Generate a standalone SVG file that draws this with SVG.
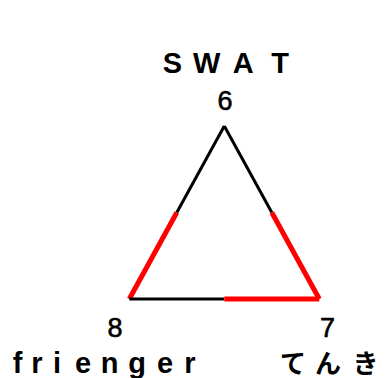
<svg xmlns="http://www.w3.org/2000/svg" width="385" height="378" viewBox="0 0 385 378">
  <style>
    .lbl { font-family: "Liberation Sans", Arial, "Noto Sans CJK JP", sans-serif; fill: #000; text-anchor: middle; font-weight: bold; }
    .num { font-size: 27px; font-weight: normal; stroke: #000; stroke-width: 0.6; }
    .name { font-size: 29px; }
    .cjk { font-family: "Noto Sans CJK JP", sans-serif; font-size: 26px; }
    .e1 { stroke: #000; stroke-width: 3; fill: none; }
    .e2 { stroke: #ff0000; stroke-width: 5; fill: none; }
  </style>
  <rect width="385" height="378" fill="#fff"/>
  <g id="connectors">
    <g id="edge-6-8">
      <line class="e1" x1="224.3" y1="126" x2="176.8" y2="212.5"/>
      <line class="e2" x1="176.8" y1="212.5" x2="129.3" y2="299"/>
    </g>
    <g id="edge-6-7">
      <line class="e1" x1="224.3" y1="126" x2="271.8" y2="212.5"/>
      <line class="e2" x1="271.8" y1="212.5" x2="319.3" y2="299"/>
    </g>
    <g id="edge-8-7">
      <line class="e1" x1="129.3" y1="299" x2="224.3" y2="299"/>
      <line class="e2" x1="224.3" y1="299" x2="319.3" y2="299"/>
    </g>
  </g>
  <g id="node-6">
    <text class="lbl name" x="172.5 206.7 243.3 280" y="73.3">SWAT</text>
    <text class="lbl num" x="225" y="110">6</text>
  </g>
  <g id="node-8">
    <text class="lbl num" x="115" y="337">8</text>
    <text class="lbl name" x="17.7 36.8 57 83 109.7 137 165 190" y="373">frienger</text>
  </g>
  <g id="node-7">
    <text class="lbl num" x="327.5" y="337">7</text>
    <text class="lbl cjk" x="293 328 365.5" y="373">てんき</text>
  </g>
</svg>
